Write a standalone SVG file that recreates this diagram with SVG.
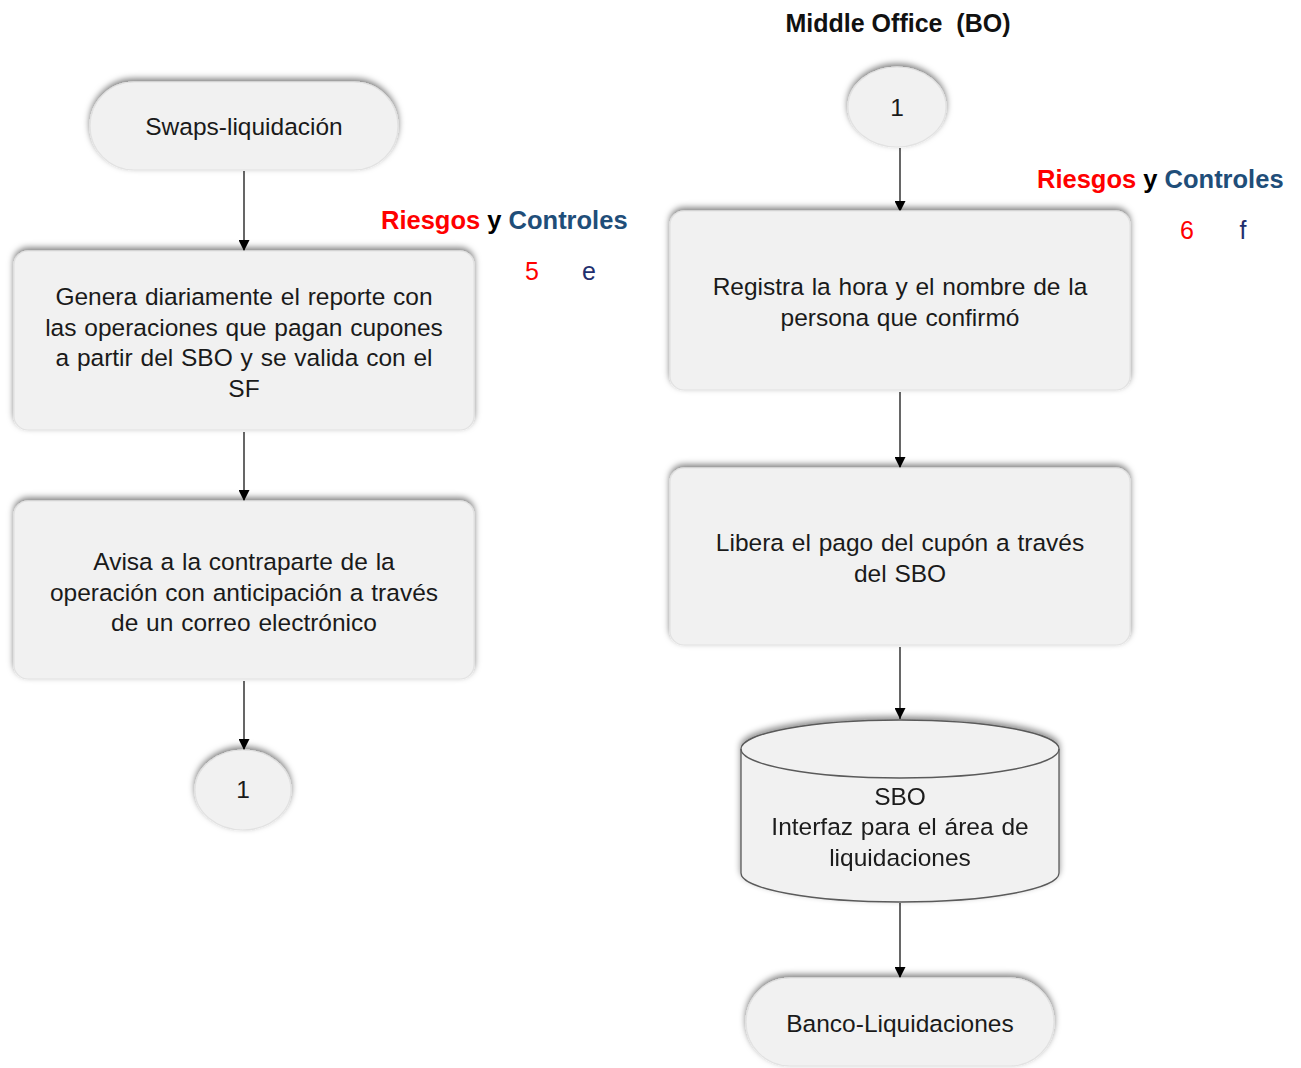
<svg xmlns="http://www.w3.org/2000/svg" width="1301" height="1068" viewBox="0 0 1301 1068">
  <style>
    .shape { fill: #f1f1f1; stroke: #e2e2e2; stroke-width: 1.2; filter: url(#soft); }
    .cyl { fill: #f1f1f1; stroke: #5a5a5a; stroke-width: 1.3; }
    .lbl { font-family: "Liberation Sans", Arial, sans-serif; font-size: 24.5px; fill: #1a1a1a; text-anchor: middle; word-spacing: 1px; }
    .title { font-family: "Liberation Sans", Arial, sans-serif; font-size: 25px; font-weight: bold; fill: #111; text-anchor: middle; }
    .rc { font-family: "Liberation Sans", Arial, sans-serif; font-size: 25.5px; font-weight: bold; }
    .num { font-family: "Liberation Sans", Arial, sans-serif; font-size: 25px; }
    .red { fill: #ff0000; }
    .blue { fill: #1f4e79; }
    .navy { fill: #1f2f6e; }
    .conn line { stroke: #000; stroke-width: 1.2; marker-end: url(#arrow); }
  </style>
  <defs>
    <filter id="soft" x="-10%" y="-20%" width="120%" height="140%">
      <feDropShadow dx="0" dy="-3" stdDeviation="3" flood-color="#000" flood-opacity="0.5"/>
    </filter>
    <filter id="cylshadow" x="-10%" y="-20%" width="120%" height="140%">
      <feDropShadow dx="0" dy="-3" stdDeviation="3" flood-color="#000" flood-opacity="0.45"/>
    </filter>
    <marker id="arrow" viewBox="0 0 10 10" refX="10" refY="5" markerWidth="11" markerHeight="11" markerUnits="userSpaceOnUse" orient="auto">
      <path d="M0,0 L10,5 L0,10 z" fill="#000"/>
    </marker>
  </defs>

  <!-- connectors -->
  <g id="connectors" class="conn">
    <line x1="244" y1="171" x2="244" y2="251"/>
    <line x1="244" y1="432" x2="244" y2="501"/>
    <line x1="244" y1="681" x2="244" y2="750"/>
    <line x1="900" y1="148" x2="900" y2="212"/>
    <line x1="900" y1="392" x2="900" y2="468"/>
    <line x1="900" y1="647" x2="900" y2="719"/>
    <line x1="900" y1="903" x2="900" y2="978"/>
  </g>

  <!-- left column -->
  <g id="swaps-liquidacion">
    <rect class="shape" x="90" y="82" width="308" height="88" rx="44" ry="44"/>
    <text class="lbl" x="244" y="135">Swaps-liquidación</text>
  </g>

  <g id="genera-reporte">
    <rect class="shape" x="14" y="251" width="460" height="179" rx="14" ry="14"/>
    <text class="lbl" x="244" y="305">Genera diariamente el reporte con</text>
    <text class="lbl" x="244" y="336">las operaciones que pagan cupones</text>
    <text class="lbl" x="244" y="366">a partir del SBO y se valida con el</text>
    <text class="lbl" x="244" y="397">SF</text>
  </g>

  <g id="avisa-contraparte">
    <rect class="shape" x="14" y="501" width="460" height="178" rx="14" ry="14"/>
    <text class="lbl" x="244" y="570">Avisa a la contraparte de la</text>
    <text class="lbl" x="244" y="601">operación con anticipación a través</text>
    <text class="lbl" x="244" y="631">de un correo electrónico</text>
  </g>

  <g id="conector-1-salida">
    <ellipse class="shape" cx="243" cy="790" rx="48" ry="40"/>
    <text class="lbl" x="243" y="798">1</text>
  </g>

  <g id="riesgos-controles-5e">
    <text class="rc" x="381" y="229"><tspan class="red">Riesgos</tspan><tspan fill="#000"> y </tspan><tspan class="blue">Controles</tspan></text>
    <text class="num red" x="532" y="280" text-anchor="middle">5</text>
    <text class="num navy" x="589" y="280" text-anchor="middle">e</text>
  </g>

  <!-- right column -->
  <g id="middle-office-title">
    <text class="title" x="898" y="32" xml:space="preserve">Middle Office  (BO)</text>
  </g>

  <g id="conector-1-entrada">
    <ellipse class="shape" cx="897" cy="107" rx="49" ry="40"/>
    <text class="lbl" x="897" y="116">1</text>
  </g>

  <g id="registra-hora">
    <rect class="shape" x="670" y="211" width="460" height="179" rx="14" ry="14"/>
    <text class="lbl" x="900" y="295">Registra la hora y el nombre de la</text>
    <text class="lbl" x="900" y="326">persona que confirmó</text>
  </g>

  <g id="libera-pago">
    <rect class="shape" x="670" y="468" width="460" height="177" rx="14" ry="14"/>
    <text class="lbl" x="900" y="551">Libera el pago del cupón a través</text>
    <text class="lbl" x="900" y="582">del SBO</text>
  </g>

  <g id="sbo-interfaz" filter="url(#cylshadow)">
    <path class="cyl" d="M741,749 L741,873 A159,29 0 0 0 1059,873 L1059,749 A159,29 0 0 0 741,749 Z"/>
    <path class="cyl" d="M741,749 A159,29 0 0 0 1059,749" style="fill:none"/>
    <text class="lbl" x="900" y="805">SBO</text>
    <text class="lbl" x="900" y="835">Interfaz para el área de</text>
    <text class="lbl" x="900" y="866">liquidaciones</text>
  </g>

  <g id="banco-liquidaciones">
    <rect class="shape" x="746" y="978" width="308" height="88" rx="44" ry="44"/>
    <text class="lbl" x="900" y="1032">Banco-Liquidaciones</text>
  </g>

  <g id="riesgos-controles-6f">
    <text class="rc" x="1037" y="188"><tspan class="red">Riesgos</tspan><tspan fill="#000"> y </tspan><tspan class="blue">Controles</tspan></text>
    <text class="num red" x="1187" y="239" text-anchor="middle">6</text>
    <text class="num navy" x="1243" y="239" text-anchor="middle">f</text>
  </g>
</svg>
